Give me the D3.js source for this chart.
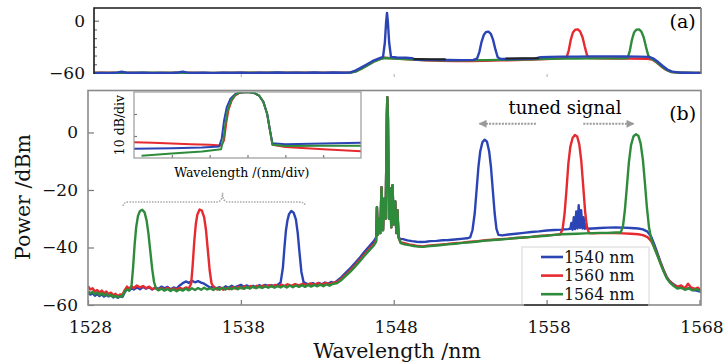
<!DOCTYPE html>
<html>
<head>
<meta charset="utf-8">
<script src="https://cdn.jsdelivr.net/npm/d3@7"></script>
<style>
  body { margin: 0; background: #fff; }
  svg { display: block; font-family: "DejaVu Serif", serif; }
</style>
</head>
<body>
<svg id="chart" width="726" height="362"></svg>
<script>
// ---- data ----
const seriesNames = ["1540 nm", "1560 nm", "1564 nm"];
const seriesColors = ["#2b44b5", "#e62a2f", "#2e8b3c"];
const xTicks = [1528, 1538, 1548, 1558, 1568];
const yTicksMain = [0, -20, -40, -60];
const yTicksTop = [0, -60];
const yMinorTop = [-50, -40, -30, -20, -10];
const xTicksTop = [1538, 1548, 1558];
const insetXTicks = [-2, -1, 0, 1, 2];
const insetYTicks = [-10, -20];

// pump + FWM comb around 1547.5 nm (same in all three spectra)
const pumpComb = [[1546.9,-26],[1546.97,-35.5],[1547.05,-30],[1547.12,-35],[1547.2,-19],[1547.3,-34],[1547.38,-23],[1547.47,-30],[1547.55,6],[1547.58,12.3],[1547.62,5],[1547.69,-30],[1547.76,-19.5],[1547.84,-33],[1547.92,-18.3],[1548.0,-32],[1548.1,-24],[1548.17,-35],[1548.24,-27],[1548.32,-36.5]];

// (b) spectra [wavelength nm, power dBm]
const spec1540 = [[1528.0,-55.8],[1528.15,-56.4],[1528.3,-55.9],[1528.45,-56.8],[1528.6,-56.2],[1528.75,-56.9],[1528.9,-56.3],[1529.05,-57.1],[1529.2,-56.5],[1529.35,-57.0],[1529.5,-56.6],[1529.65,-57.4],[1529.8,-56.9],[1529.95,-57.5],[1530.1,-57.0],[1530.25,-57.2],[1530.4,-55.6],[1530.55,-54.5],[1530.7,-54.9],[1530.85,-54.2],[1531.0,-54.6],[1531.2,-53.9],[1531.4,-54.5],[1531.6,-53.7],[1531.8,-54.3],[1532.0,-53.8],[1532.2,-54.6],[1532.4,-54.0],[1532.6,-54.4],[1532.8,-53.6],[1533.0,-54.2],[1533.2,-53.7],[1533.4,-54.5],[1533.6,-53.9],[1533.8,-54.3],[1534.0,-53.2],[1534.2,-52.4],[1534.4,-51.8],[1534.6,-52.3],[1534.8,-51.6],[1535.0,-52.1],[1535.2,-51.7],[1535.4,-52.2],[1535.6,-52.6],[1535.8,-53.3],[1536.0,-54.0],[1536.2,-53.6],[1536.4,-54.3],[1536.6,-53.8],[1536.8,-54.4],[1537.0,-53.5],[1537.2,-54.0],[1537.4,-53.3],[1537.6,-53.9],[1537.8,-53.4],[1538.0,-53.0],[1538.2,-53.7],[1538.4,-53.2],[1538.6,-53.8],[1538.8,-53.3],[1539.0,-53.9],[1539.2,-53.1],[1539.4,-53.6],[1539.6,-53.0],[1539.8,-53.5],[1540.0,-53.1],[1540.2,-53.6],[1540.4,-53.0],[1540.6,-52.2],[1540.75,-47],[1540.85,-40],[1540.95,-34],[1541.05,-30.5],[1541.15,-28.4],[1541.3,-27.3],[1541.45,-27.9],[1541.6,-30.2],[1541.72,-35],[1541.84,-42],[1541.96,-48.5],[1542.1,-52.0],[1542.3,-52.6],[1542.5,-53.0],[1542.7,-52.4],[1542.9,-52.9],[1543.1,-52.3],[1543.3,-52.8],[1543.5,-52.2],[1543.7,-52.6],[1543.9,-52.0],[1544.1,-52.4],[1544.3,-51.5],[1544.6,-50.2],[1544.9,-48.6],[1545.2,-47.0],[1545.5,-45.2],[1545.8,-43.4],[1546.1,-41.4],[1546.4,-39.6],[1546.7,-37.8],[1546.85,-36.5]]
  .concat(pumpComb)
  .concat([[1548.45,-37.0],[1548.6,-37.1],[1548.9,-37.5],[1549.2,-37.8],[1549.5,-38.0],[1549.8,-38.1],[1550.1,-38.0],[1550.4,-37.8],[1550.8,-37.7],[1551.2,-37.5],[1551.6,-37.4],[1552.0,-37.2],[1552.4,-37.0],[1552.8,-36.8],[1553.0,-36.5],[1553.15,-34],[1553.3,-28],[1553.42,-20],[1553.54,-12],[1553.66,-6.5],[1553.8,-3.4],[1553.95,-2.5],[1554.1,-3.2],[1554.24,-6.5],[1554.36,-12],[1554.48,-20],[1554.6,-28],[1554.72,-33.5],[1554.85,-35.6],[1555.1,-35.8],[1555.5,-35.5],[1556.0,-35.2],[1556.5,-34.9],[1557.0,-34.6],[1557.5,-34.4],[1558.0,-34.1],[1558.5,-33.9],[1559.0,-33.8],[1559.4,-33.6],[1559.55,-33.5],[1559.62,-31.5],[1559.7,-33.8],[1559.78,-29.5],[1559.86,-33.6],[1559.94,-27.5],[1560.02,-33.4],[1560.1,-25.3],[1560.18,-33.2],[1560.26,-27],[1560.34,-33.4],[1560.42,-29.5],[1560.5,-33.5],[1560.58,-31.8],[1560.68,-33.5],[1561.0,-33.4],[1561.5,-33.2],[1562.0,-33.1],[1562.5,-33.0],[1563.0,-33.1],[1563.5,-33.2],[1564.0,-33.4],[1564.3,-33.7],[1564.6,-34.5],[1564.85,-36.3],[1565.05,-39],[1565.25,-42],[1565.45,-45],[1565.65,-47.8],[1565.85,-50.2],[1566.05,-51.7],[1566.3,-52.8],[1566.55,-53.6],[1566.8,-53.9],[1567.05,-54.5],[1567.3,-54.1],[1567.55,-54.8],[1567.8,-55.0],[1568.1,-55.4]]);

const spec1560 = [[1528.0,-53.5],[1528.15,-54.6],[1528.3,-54.2],[1528.45,-55.3],[1528.6,-54.8],[1528.75,-55.6],[1528.9,-55.0],[1529.05,-55.9],[1529.2,-55.3],[1529.35,-56.2],[1529.5,-55.7],[1529.65,-56.6],[1529.8,-56.1],[1529.95,-56.9],[1530.1,-56.3],[1530.25,-56.5],[1530.4,-54.8],[1530.55,-53.6],[1530.7,-54.3],[1530.85,-53.5],[1531.0,-54.1],[1531.2,-53.2],[1531.4,-53.9],[1531.6,-53.4],[1531.8,-54.2],[1532.0,-53.6],[1532.2,-54.5],[1532.4,-54.0],[1532.6,-54.7],[1532.8,-54.1],[1533.0,-54.6],[1533.2,-54.0],[1533.4,-54.8],[1533.6,-54.2],[1533.8,-54.6],[1534.0,-54.0],[1534.2,-54.5],[1534.4,-53.9],[1534.6,-54.2],[1534.75,-52.5],[1534.85,-46],[1534.95,-38],[1535.05,-32],[1535.15,-28.6],[1535.3,-26.8],[1535.45,-27.2],[1535.6,-29.5],[1535.72,-34],[1535.84,-41],[1535.96,-48],[1536.08,-52.5],[1536.25,-54.0],[1536.45,-54.6],[1536.65,-54.0],[1536.85,-54.7],[1537.05,-54.1],[1537.25,-54.5],[1537.45,-53.8],[1537.65,-54.3],[1537.85,-53.7],[1538.05,-54.2],[1538.25,-53.5],[1538.45,-54.0],[1538.65,-53.4],[1538.85,-53.9],[1539.05,-53.3],[1539.25,-53.8],[1539.45,-53.2],[1539.65,-53.7],[1539.85,-53.1],[1540.05,-53.6],[1540.25,-53.0],[1540.45,-53.5],[1540.65,-52.9],[1540.85,-53.4],[1541.05,-52.8],[1541.3,-53.3],[1541.55,-52.7],[1541.8,-53.2],[1542.05,-52.6],[1542.3,-53.1],[1542.55,-52.5],[1542.8,-53.0],[1543.05,-52.4],[1543.3,-52.9],[1543.55,-52.3],[1543.8,-52.8],[1544.05,-52.2],[1544.3,-52.0],[1544.6,-50.8],[1544.9,-49.3],[1545.2,-47.7],[1545.5,-46.0],[1545.8,-44.2],[1546.1,-42.3],[1546.4,-40.5],[1546.7,-38.8],[1546.85,-37.5]]
  .concat(pumpComb)
  .concat([[1548.45,-38.2],[1548.7,-38.5],[1549.0,-38.9],[1549.3,-39.2],[1549.6,-39.5],[1549.9,-39.6],[1550.2,-39.4],[1550.6,-39.2],[1551.0,-39.0],[1551.5,-38.8],[1552.0,-38.5],[1552.5,-38.3],[1553.0,-38.0],[1553.5,-37.8],[1554.0,-37.5],[1554.5,-37.3],[1555.0,-37.1],[1555.5,-36.9],[1556.0,-36.7],[1556.5,-36.5],[1557.0,-36.3],[1557.5,-36.0],[1558.0,-35.8],[1558.5,-35.6],[1558.9,-35.4],[1559.05,-33.5],[1559.18,-28],[1559.3,-20],[1559.42,-11],[1559.55,-5],[1559.7,-1.9],[1559.85,-0.9],[1560.0,-1.4],[1560.14,-4.2],[1560.27,-10],[1560.4,-19],[1560.52,-27.5],[1560.64,-33],[1560.78,-35.0],[1561.0,-35.1],[1561.5,-35.0],[1562.0,-35.0],[1562.5,-35.0],[1563.0,-35.1],[1563.5,-35.2],[1564.0,-35.4],[1564.3,-35.7],[1564.6,-36.4],[1564.85,-37.8],[1565.05,-40],[1565.25,-42.6],[1565.45,-45.4],[1565.65,-48],[1565.85,-50.3],[1566.05,-51.8],[1566.3,-53.0],[1566.55,-53.7],[1566.8,-53.2],[1567.05,-54.2],[1567.25,-52.6],[1567.45,-53.9],[1567.7,-54.4],[1567.9,-54.0],[1568.1,-55.0]]);

const spec1564 = [[1528.0,-55.2],[1528.15,-55.9],[1528.3,-55.4],[1528.45,-56.2],[1528.6,-55.7],[1528.75,-56.5],[1528.9,-55.9],[1529.05,-56.7],[1529.2,-56.1],[1529.35,-56.9],[1529.5,-56.4],[1529.65,-57.2],[1529.8,-56.8],[1529.95,-57.4],[1530.1,-56.9],[1530.25,-57.0],[1530.4,-55.3],[1530.55,-54.6],[1530.7,-55.0],[1530.85,-53.2],[1530.95,-47],[1531.05,-39],[1531.15,-33],[1531.27,-29],[1531.4,-27.3],[1531.55,-26.9],[1531.7,-27.8],[1531.83,-30.5],[1531.95,-35],[1532.07,-41],[1532.2,-47.5],[1532.32,-52],[1532.45,-54.3],[1532.6,-54.9],[1532.8,-54.3],[1533.0,-55.0],[1533.2,-54.4],[1533.4,-55.1],[1533.6,-54.5],[1533.8,-55.2],[1534.0,-54.6],[1534.2,-55.0],[1534.4,-54.3],[1534.6,-54.9],[1534.8,-54.2],[1535.0,-54.8],[1535.2,-54.1],[1535.4,-54.7],[1535.6,-54.0],[1535.8,-54.6],[1536.0,-54.2],[1536.2,-54.8],[1536.4,-54.1],[1536.6,-54.7],[1536.8,-54.0],[1537.0,-54.6],[1537.2,-54.0],[1537.4,-54.5],[1537.6,-53.9],[1537.8,-54.5],[1538.0,-53.8],[1538.2,-54.4],[1538.4,-53.7],[1538.6,-54.3],[1538.8,-53.6],[1539.0,-54.2],[1539.2,-53.6],[1539.4,-54.1],[1539.6,-53.5],[1539.8,-54.0],[1540.0,-53.4],[1540.2,-54.0],[1540.4,-53.4],[1540.6,-53.9],[1540.8,-53.3],[1541.0,-53.9],[1541.2,-53.2],[1541.4,-53.8],[1541.6,-53.2],[1541.8,-53.7],[1542.0,-53.1],[1542.2,-53.7],[1542.4,-53.0],[1542.6,-53.6],[1542.8,-53.0],[1543.0,-53.5],[1543.2,-52.9],[1543.4,-53.5],[1543.6,-52.8],[1543.8,-53.3],[1544.0,-52.7],[1544.3,-52.4],[1544.6,-51.2],[1544.9,-49.7],[1545.2,-48.2],[1545.5,-46.5],[1545.8,-44.7],[1546.1,-42.8],[1546.4,-41.0],[1546.7,-39.3],[1546.85,-38.0]]
  .concat(pumpComb)
  .concat([[1548.45,-38.5],[1548.7,-38.9],[1549.0,-39.2],[1549.3,-39.5],[1549.6,-39.7],[1549.9,-39.8],[1550.2,-39.6],[1550.6,-39.4],[1551.0,-39.2],[1551.5,-38.9],[1552.0,-38.7],[1552.5,-38.4],[1553.0,-38.2],[1553.5,-37.9],[1554.0,-37.6],[1554.5,-37.4],[1555.0,-37.2],[1555.5,-37.0],[1556.0,-36.7],[1556.5,-36.5],[1557.0,-36.3],[1557.5,-36.1],[1558.0,-35.9],[1558.5,-35.6],[1559.0,-35.4],[1559.5,-35.3],[1560.0,-35.2],[1560.5,-35.1],[1561.0,-35.0],[1561.5,-34.9],[1562.0,-34.9],[1562.5,-34.8],[1562.85,-34.8],[1563.0,-32.5],[1563.12,-27],[1563.25,-19],[1563.38,-10.5],[1563.52,-4.5],[1563.68,-1.4],[1563.85,-0.6],[1564.0,-1.1],[1564.15,-3.8],[1564.3,-9.5],[1564.43,-17.5],[1564.56,-26],[1564.7,-33],[1564.85,-37.2],[1565.05,-40.2],[1565.25,-42.8],[1565.45,-45.6],[1565.65,-48.3],[1565.85,-50.6],[1566.05,-52.1],[1566.3,-53.3],[1566.55,-54.3],[1566.8,-54.0],[1567.05,-54.7],[1567.3,-54.2],[1567.55,-54.9],[1567.8,-54.5],[1568.1,-55.2]]);

// (a) overview spectra
const overview1540 = [[1528.4,-60.2],[1528.9,-59.9],[1529.4,-60.3],[1529.9,-59.6],[1530.2,-58.6],[1530.5,-59.7],[1531.0,-60.1],[1531.6,-59.8],[1532.2,-60.3],[1532.8,-59.9],[1533.4,-60.2],[1533.9,-59.4],[1534.2,-58.5],[1534.5,-59.6],[1535.0,-60.0],[1535.6,-59.7],[1536.2,-60.2],[1536.8,-59.8],[1537.4,-60.1],[1538.0,-59.6],[1538.6,-60.2],[1539.2,-59.7],[1539.8,-60.1],[1540.4,-59.5],[1541.0,-60.0],[1541.6,-59.6],[1542.2,-60.1],[1542.8,-59.5],[1543.4,-59.9],[1544.0,-59.4],[1544.6,-59.8],[1545.1,-59.6],[1545.4,-58.0],[1545.8,-54.5],[1546.2,-50.5],[1546.6,-46.5],[1547.0,-43.5],[1547.3,-41.5],[1547.42,-25],[1547.5,-2],[1547.56,9],[1547.62,-2],[1547.7,-25],[1547.82,-41.5],[1548.2,-42.3],[1548.8,-42.6],[1549.2,-43.0],[1549.4,-44.6],[1550.0,-44.8],[1550.8,-45.0],[1551.6,-45.2],[1552.4,-45.3],[1553.2,-45.0],[1553.45,-43.5],[1553.6,-36],[1553.75,-24],[1553.9,-16],[1554.05,-12.8],[1554.2,-12.6],[1554.35,-15],[1554.5,-22],[1554.65,-33],[1554.8,-42],[1555.0,-44.0],[1555.6,-44.0],[1556.4,-43.8],[1557.2,-43.6],[1557.6,-42.0],[1558.2,-41.5],[1559.0,-41.3],[1560.0,-41.2],[1561.0,-41.0],[1562.0,-41.0],[1563.0,-41.1],[1564.0,-41.2],[1564.7,-41.5],[1565.0,-43.5],[1565.3,-47.5],[1565.6,-52],[1565.9,-56],[1566.2,-58.5],[1566.5,-59.0],[1566.8,-59.8],[1567.2,-59.6],[1567.6,-60.1],[1568.1,-60.0]];
const overview1560 = [[1528.4,-59.8],[1530,-59.6],[1532,-59.9],[1534,-59.7],[1536,-59.9],[1538,-59.6],[1540,-59.8],[1542,-59.6],[1544,-59.7],[1545.1,-59.8],[1545.5,-58.2],[1545.9,-54.8],[1546.3,-50.8],[1546.7,-46.8],[1547.1,-44.0],[1547.4,-42.5],[1548,-43.2],[1549,-44.2],[1550,-45.6],[1551,-46.0],[1552,-46.2],[1553,-46.2],[1554,-46.0],[1555,-45.6],[1556,-45.2],[1557,-44.6],[1558,-44.0],[1559,-43.2],[1559.3,-42.6],[1559.45,-34],[1559.58,-22],[1559.72,-13.5],[1559.88,-10.2],[1560.05,-10],[1560.2,-12.5],[1560.35,-19],[1560.5,-30],[1560.65,-40],[1560.8,-43.0],[1561.5,-43.2],[1562.5,-43.4],[1563.5,-43.6],[1564.5,-43.6],[1564.9,-44.5],[1565.2,-48],[1565.5,-52.5],[1565.8,-56.2],[1566.1,-58.6],[1566.5,-59.4],[1567,-59.7],[1568.1,-59.9]];
const overview1564 = [[1528.4,-60],[1532,-59.8],[1536,-60],[1540,-59.8],[1544,-59.9],[1545.1,-59.8],[1545.5,-58.4],[1545.9,-55],[1546.3,-51],[1546.7,-47],[1547.1,-44.2],[1547.4,-42.8],[1548,-43.4],[1549,-44.3],[1550,-45.2],[1551,-45.5],[1552,-45.6],[1553,-45.5],[1554,-45.3],[1555,-45.0],[1556,-44.6],[1557,-44.2],[1558,-43.8],[1559,-43.5],[1560,-43.4],[1561,-43.3],[1562,-43.2],[1563,-43.2],[1563.3,-43.0],[1563.45,-34],[1563.58,-22],[1563.72,-13.5],[1563.88,-10.2],[1564.05,-10],[1564.2,-12.5],[1564.35,-19],[1564.5,-30],[1564.65,-40],[1564.8,-43.2],[1565.0,-45],[1565.3,-49],[1565.6,-53.5],[1565.9,-57],[1566.2,-59],[1566.6,-59.6],[1567.2,-59.8],[1568.1,-60]];
const overviewBlackA = [[1549.3,-44.0],[1550.3,-44.2],[1551.4,-44.4]];
const overviewBlackB = [[1555.3,-43.3],[1556.4,-43.2],[1557.5,-43.0]];

// inset: [offset in nm/div, level in dB relative to peak]
const inset1540 = [[-3,-25.8],[-2,-25.6],[-1.2,-25.2],[-0.75,-24.8],[-0.68,-21],[-0.62,-13],[-0.55,-7],[-0.45,-3],[-0.33,-1],[-0.2,-0.2],[0,0],[0.15,-0.3],[0.3,-1.5],[0.42,-4.5],[0.52,-10],[0.6,-18],[0.66,-23.3],[1,-23.8],[2,-23.4],[3,-23.1]];
const inset1560 = [[-3,-22.8],[-2.5,-23.1],[-2,-23.4],[-1.5,-23.7],[-1,-24],[-0.7,-24.3],[-0.62,-22],[-0.56,-14],[-0.5,-8],[-0.42,-4],[-0.32,-1.5],[-0.2,-0.3],[0,0],[0.15,-0.3],[0.3,-1.5],[0.42,-4.5],[0.52,-10],[0.6,-18],[0.66,-24],[1,-25],[2,-26],[3,-26.9]];
const inset1564 = [[-2.8,-29],[-2,-28],[-1.2,-27],[-0.7,-26],[-0.64,-22],[-0.58,-14],[-0.52,-8],[-0.43,-3.8],[-0.32,-1.2],[-0.2,-0.2],[0,0],[0.15,-0.3],[0.3,-1.5],[0.42,-4.5],[0.52,-10],[0.6,-18],[0.66,-24],[1,-24.5],[2,-24.4],[3,-24.4]];

// ---- layout ----
const svg = d3.select("#chart");
const x = d3.scaleLinear().domain([1528, 1568.1]).range([88, 701]);
const yMain = d3.scaleLinear().domain([-60, 14.6]).range([305, 90.5]);
const yTop = d3.scaleLinear().domain([-61.2, 14.6]).range([74, 8]);
const topLeft = 94;
const xInset = d3.scaleLinear().domain([-3, 3]).range([134, 361]);
const yInset = d3.scaleLinear().domain([-30, 0]).range([158, 92]);

const defs = svg.append("defs");
const addClip = (id, x0, y0, w, h) => defs.append("clipPath").attr("id", id)
  .append("rect").attr("x", x0).attr("y", y0).attr("width", w).attr("height", h);
addClip("clipMain", x.range()[0], yMain.range()[1], x.range()[1] - x.range()[0], yMain.range()[0] - yMain.range()[1]);
addClip("clipTop", topLeft, yTop.range()[1], x.range()[1] - topLeft, yTop.range()[0] - yTop.range()[1]);
addClip("clipInset", xInset.range()[0], yInset.range()[1], xInset.range()[1] - xInset.range()[0], yInset.range()[0] - yInset.range()[1]);

defs.append("marker").attr("id", "arrowHead")
  .attr("viewBox", "0 0 10 10").attr("refX", 9).attr("refY", 5)
  .attr("markerWidth", 5).attr("markerHeight", 4).attr("orient", "auto")
  .append("path").attr("d", "M0,0 L10,5 L0,10 Z").attr("fill", "#9a9a9a");

const styleAxis = (g, fontSize) => {
  g.select(".domain").remove();
  g.selectAll(".tick line").attr("stroke", "#777").attr("stroke-width", 1.2);
  g.selectAll("text").attr("font-family", "DejaVu Serif, serif")
    .attr("font-size", fontSize).attr("fill", "#111");
};

const drawTrace = (g, data, xs, ys, color, width) => {
  const line = d3.line().x(d => xs(d[0])).y(d => ys(d[1]));
  g.append("path").datum(data).attr("d", line)
    .attr("fill", "none").attr("stroke", color)
    .attr("stroke-width", width).attr("stroke-linejoin", "round");
};

// ---- panel (a) ----
const gTop = svg.append("g");
gTop.append("g").attr("transform", `translate(${topLeft},0)`)
  .call(d3.axisLeft(yTop).tickValues(yMinorTop).tickSize(-3).tickFormat(""))
  .call(g => styleAxis(g, 17));
gTop.append("g").attr("transform", `translate(${topLeft},0)`)
  .call(d3.axisLeft(yTop).tickValues(yTicksTop).tickSize(-5).tickPadding(9))
  .call(g => styleAxis(g, 17));
gTop.append("g").attr("transform", `translate(0,${yTop.range()[0]})`)
  .call(d3.axisBottom(x).tickValues(xTicksTop).tickSize(3).tickFormat(""))
  .call(g => styleAxis(g, 17))
  .call(g => g.selectAll(".tick line").attr("stroke", "#bbb"));

const topTraces = gTop.append("g").attr("clip-path", "url(#clipTop)");
drawTrace(topTraces, overview1560, x, yTop, seriesColors[1], 2.4);
drawTrace(topTraces, overview1564, x, yTop, seriesColors[2], 2.4);
drawTrace(topTraces, overview1540, x, yTop, seriesColors[0], 2.4);
drawTrace(topTraces, overviewBlackA, x, yTop, "#222", 2);
drawTrace(topTraces, overviewBlackB, x, yTop, "#222", 2);

// frame (a): dark top/left, grey right
gTop.append("path")
  .attr("d", `M${topLeft},${yTop.range()[0]} V${yTop.range()[1]} H${x.range()[1]}`)
  .attr("fill", "none").attr("stroke", "#1a1a1a").attr("stroke-width", 1.6);
gTop.append("path")
  .attr("d", `M${x.range()[1]},${yTop.range()[1]} V${yTop.range()[0]}`)
  .attr("fill", "none").attr("stroke", "#777").attr("stroke-width", 1.6);
gTop.append("text").attr("x", x(1566.9)).attr("y", 28)
  .attr("text-anchor", "middle").attr("font-size", 19).text("(a)");

// ---- panel (b) ----
const gMain = svg.append("g");
const mainTraces = gMain.append("g").attr("clip-path", "url(#clipMain)");
drawTrace(mainTraces, spec1540, x, yMain, seriesColors[0], 2.4);
drawTrace(mainTraces, spec1560, x, yMain, seriesColors[1], 2.4);
drawTrace(mainTraces, spec1564, x, yMain, seriesColors[2], 2.4);

// legend (white box sitting on the bottom axis)
const legend = gMain.append("g");
legend.append("rect").attr("x", 522).attr("y", 247).attr("width", 127).attr("height", 58)
  .attr("fill", "#fff").attr("stroke", "#d6d6d6").attr("stroke-width", 1);
seriesNames.forEach((name, i) => {
  const ly = 257 + i * 18.6;
  legend.append("line").attr("x1", 541).attr("x2", 563).attr("y1", ly).attr("y2", ly)
    .attr("stroke", seriesColors[i]).attr("stroke-width", 2.6);
  legend.append("text").attr("x", 564).attr("y", ly).attr("dy", "0.36em")
    .attr("font-size", 15.8).attr("fill", "#111").text(name);
});

gMain.append("g").attr("transform", `translate(0,${yMain.range()[0]})`)
  .call(d3.axisBottom(x).tickValues(xTicks).tickSize(-5).tickPadding(16).tickFormat(d3.format("d")))
  .call(g => styleAxis(g, 17))
  .call(g => g.selectAll(".tick text").attr("dx", 2));
gMain.append("g").attr("transform", `translate(${x.range()[0]},0)`)
  .call(d3.axisLeft(yMain).tickValues(yTicksMain).tickSize(-6).tickPadding(10))
  .call(g => styleAxis(g, 17));

gMain.append("rect")
  .attr("x", x.range()[0]).attr("y", yMain.range()[1])
  .attr("width", x.range()[1] - x.range()[0]).attr("height", yMain.range()[0] - yMain.range()[1])
  .attr("fill", "none").attr("stroke", "#8a8a8a").attr("stroke-width", 1.6);
gMain.append("line").attr("x1", 524).attr("x2", 648)
  .attr("y1", yMain.range()[0]).attr("y2", yMain.range()[0])
  .attr("stroke", "#333").attr("stroke-width", 1.6);

gMain.append("text").attr("x", x(1566.9)).attr("y", 120)
  .attr("text-anchor", "middle").attr("font-size", 19).text("(b)");

// tuned signal annotation
gMain.append("text").attr("x", x(1559.2)).attr("y", yMain(6.5))
  .attr("text-anchor", "middle").attr("font-size", 18).text("tuned signal");
[[1557.3, 1553.6], [1560.4, 1563.7]].forEach(([from, to]) => {
  gMain.append("line")
    .attr("x1", x(from)).attr("x2", x(to)).attr("y1", yMain(3)).attr("y2", yMain(3))
    .attr("stroke", "#9a9a9a").attr("stroke-width", 2).attr("stroke-dasharray", "2,1.2")
    .attr("marker-end", "url(#arrowHead)");
});

// brace over the idler peaks
const bx0 = x(1530.3), bx1 = x(1542.2), bxm = x(1536.8);
const byEnd = yMain(-25.6), byLine = yMain(-24.2), byTip = yMain(-21);
gMain.append("path")
  .attr("d", `M${bx0},${byEnd} Q${bx0},${byLine} ${bx0 + 6},${byLine} L${bxm - 6},${byLine} Q${bxm},${byLine} ${bxm},${byTip} Q${bxm},${byLine} ${bxm + 6},${byLine} L${bx1 - 6},${byLine} Q${bx1},${byLine} ${bx1},${byEnd}`)
  .attr("fill", "none").attr("stroke", "#a8a8a8").attr("stroke-width", 1.5)
  .attr("stroke-dasharray", "1.5,1.3");

// ---- inset ----
const gInset = svg.append("g");
gInset.append("rect")
  .attr("x", xInset.range()[0]).attr("y", yInset.range()[1])
  .attr("width", xInset.range()[1] - xInset.range()[0]).attr("height", yInset.range()[0] - yInset.range()[1])
  .attr("fill", "#fff");
const insetTraces = gInset.append("g").attr("clip-path", "url(#clipInset)");
drawTrace(insetTraces, inset1560, xInset, yInset, seriesColors[1], 2);
drawTrace(insetTraces, inset1540, xInset, yInset, seriesColors[0], 2);
drawTrace(insetTraces, inset1564, xInset, yInset, seriesColors[2], 2);
gInset.append("g").attr("transform", `translate(0,${yInset.range()[0]})`)
  .call(d3.axisBottom(xInset).tickValues(insetXTicks).tickSize(-3).tickFormat(""))
  .call(g => styleAxis(g, 12));
gInset.append("g").attr("transform", `translate(${xInset.range()[0]},0)`)
  .call(d3.axisLeft(yInset).tickValues(insetYTicks).tickSize(-3).tickFormat(""))
  .call(g => styleAxis(g, 12));
gInset.append("rect")
  .attr("x", xInset.range()[0]).attr("y", yInset.range()[1])
  .attr("width", xInset.range()[1] - xInset.range()[0]).attr("height", yInset.range()[0] - yInset.range()[1])
  .attr("fill", "none").attr("stroke", "#9a9a9a").attr("stroke-width", 1.2);
gInset.append("text")
  .attr("transform", `translate(124,${(yInset.range()[0] + yInset.range()[1]) / 2}) rotate(-90)`)
  .attr("text-anchor", "middle").attr("font-size", 12.5).text("10 dB/div");
gInset.append("text").attr("x", xInset(-0.15)).attr("y", 177)
  .attr("text-anchor", "middle").attr("font-size", 12.5).text("Wavelength /(nm/div)");

// ---- axis titles ----
svg.append("text").attr("x", 397).attr("y", 358)
  .attr("text-anchor", "middle").attr("font-size", 20.5).attr("fill", "#111").text("Wavelength /nm");
svg.append("text").attr("transform", "translate(30,197) rotate(-90)")
  .attr("text-anchor", "middle").attr("font-size", 20.5).attr("fill", "#111").text("Power /dBm");
</script>
</body>
</html>
